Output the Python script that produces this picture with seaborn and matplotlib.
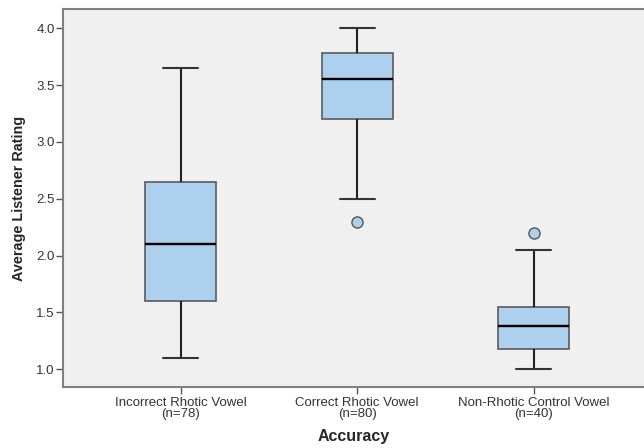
import pandas as pd
import seaborn as sns
import matplotlib.pyplot as plt

# five-number summaries
groups = ["Incorrect Rhotic Vowel\n(n=78)", "Correct Rhotic Vowel\n(n=80)", "Non-Rhotic Control Vowel\n(n=40)"]
whis_low = [1.10, 2.50, 1.00]
q1 = [1.60, 3.20, 1.18]
median = [2.10, 3.55, 1.38]
q3 = [2.65, 3.78, 1.55]
whis_high = [3.65, 4.00, 2.05]
outliers_low = [None, 2.30, None]
outliers_high = [None, None, 2.20]

# small sample per group whose quartiles reproduce the summary
rows = []
for i, g in enumerate(groups):
    vals = [whis_low[i], whis_low[i], q1[i], q1[i], median[i], q3[i], q3[i], whis_high[i], whis_high[i]]
    if outliers_low[i] is not None:
        vals[0] = outliers_low[i]
    if outliers_high[i] is not None:
        vals[-1] = outliers_high[i]
    rows += [(g, v) for v in vals]
df = pd.DataFrame(rows, columns=["Accuracy", "Average Listener Rating"])

sns.set_style("white")
plt.rcParams["font.family"] = ["Liberation Sans", "DejaVu Sans"]

fig = plt.figure(figsize=(6.44, 4.48), dpi=100)
ax = fig.add_axes([63 / 644, 1 - 387 / 448, 1 - 63 / 644, (387 - 9) / 448])
ax.set_facecolor("#F0F0F0")

sns.boxplot(
    data=df, x="Accuracy", y="Average Listener Rating", ax=ax,
    width=0.40, whis=1.5, color="#ADD0EF", saturation=1,
    boxprops=dict(facecolor="#ADD0EF", edgecolor="#5A5A5A", linewidth=1.2),
    whiskerprops=dict(color="#222222", linewidth=1.5),
    capprops=dict(color="#333333", linewidth=1.5),
    medianprops=dict(color="#000000", linewidth=1.7),
    flierprops=dict(marker="o", markerfacecolor="#ADD0EF", markeredgecolor="#555555",
                    markersize=8, markeredgewidth=1.0),
)

ax.set_xlim(-0.667, 2.625)
ax.set_ylim(0.844, 4.17)
ax.set_yticks([1.0, 1.5, 2.0, 2.5, 3.0, 3.5, 4.0])
ax.set_yticklabels(["1.0", "1.5", "2.0", "2.5", "3.0", "3.5", "4.0"])

for side in ["left", "bottom", "top"]:
    ax.spines[side].set_color("#808080")
    ax.spines[side].set_linewidth(1.5)
ax.spines["right"].set_visible(False)

ax.tick_params(axis="both", which="major", length=5, width=1, color="#555555",
               labelsize=9.5, labelcolor="#333333", pad=1, left=True, bottom=True)
ax.tick_params(axis="x", pad=2)
for lab in ax.get_xticklabels():
    lab.set_linespacing(0.95)

ax.set_xlabel("Accuracy", fontsize=11.5, fontweight="bold", labelpad=6)
ax.set_ylabel("Average Listener Rating", fontsize=10.4, fontweight="bold", labelpad=7)

fig.savefig("out.png", dpi=100)
